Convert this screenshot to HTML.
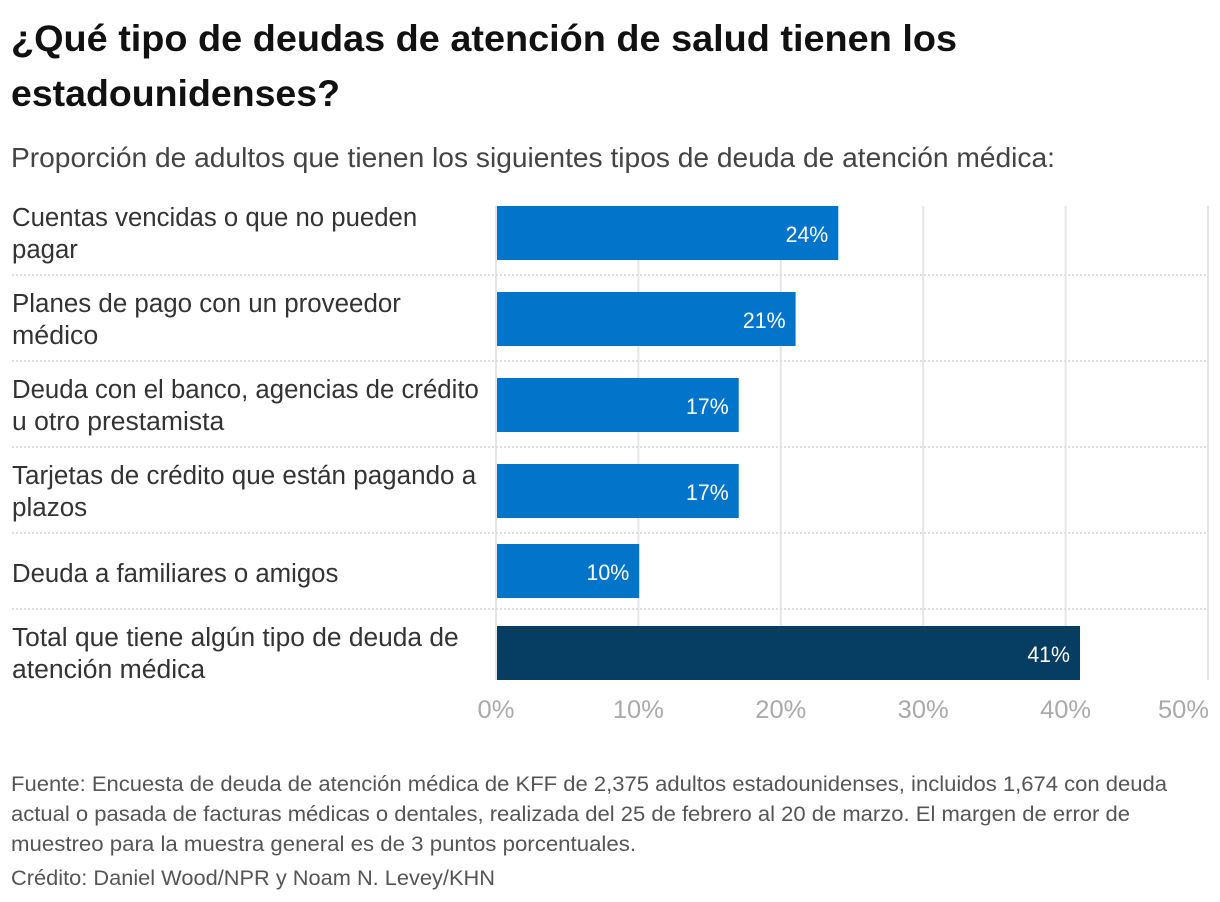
<!DOCTYPE html>
<html lang="es">
<head>
<meta charset="utf-8">
<title>Deudas de atención de salud</title>
<style>
  html, body { margin: 0; padding: 0; background: #fff; }
  svg { display: block; font-family: "Liberation Sans", sans-serif; }
</style>
</head>
<body>
<svg id="chart" width="1220" height="902" viewBox="0 0 1220 902" xmlns="http://www.w3.org/2000/svg">
  <rect width="1220" height="902" fill="#fff"/>
  <g font-weight="700" font-size="37" fill="#111">
    <text x="11" y="51" textLength="946" lengthAdjust="spacingAndGlyphs">¿Qué tipo de deudas de atención de salud tienen los</text>
    <text x="11" y="106" textLength="329" lengthAdjust="spacingAndGlyphs">estadounidenses?</text>
  </g>
  <text x="11" y="167" font-size="28" fill="#444" textLength="1044" lengthAdjust="spacingAndGlyphs">Proporción de adultos que tienen los siguientes tipos de deuda de atención médica:</text>
  <g id="plot"></g>
  <g font-size="21" fill="#555">
    <text x="11" y="791" textLength="1156" lengthAdjust="spacingAndGlyphs">Fuente: Encuesta de deuda de atención médica de KFF de 2,375 adultos estadounidenses, incluidos 1,674 con deuda</text>
    <text x="11" y="821" textLength="1119" lengthAdjust="spacingAndGlyphs">actual o pasada de facturas médicas o dentales, realizada del 25 de febrero al 20 de marzo. El margen de error de</text>
    <text x="11" y="851" textLength="625" lengthAdjust="spacingAndGlyphs">muestreo para la muestra general es de 3 puntos porcentuales.</text>
    <text x="11" y="885" textLength="484" lengthAdjust="spacingAndGlyphs">Crédito: Daniel Wood/NPR y Noam N. Levey/KHN</text>
  </g>
</svg>
<script>
const categories = [
  ["Cuentas vencidas o que no pueden", "pagar"],
  ["Planes de pago con un proveedor", "médico"],
  ["Deuda con el banco, agencias de crédito", "u otro prestamista"],
  ["Tarjetas de crédito que están pagando a", "plazos"],
  ["Deuda a familiares o amigos"],
  ["Total que tiene algún tipo de deuda de", "atención médica"]
];
const seriesValues = [24, 21, 17, 17, 10, 41];
const highlightedCategories = ["Total que tiene algún tipo de deuda de"];
const axisTicks = [0, 10, 20, 30, 40, 50];

const svgNS = "http://www.w3.org/2000/svg";
const plot = document.getElementById("plot");
const BAR_H = 54, TOP = 206, X0 = 497, UNIT = 14.22, GRID_UNIT = 14.24;
const xScale = v => X0 + UNIT * v;
const gridScale = t => X0 - 1 + GRID_UNIT * t;

// Horizontal fit of individual label lines against the reference typeface
const labelFit = {
  "Planes de pago con un proveedor": 1.016,
  "médico": 1.05,
  "u otro prestamista": 1.04,
  "Tarjetas de crédito que están pagando a": 1.02,
  "plazos": 1.02,
  "Total que tiene algún tipo de deuda de": 1.033,
  "atención médica": 1.04
};

function add(tag, attrs, parent, text) {
  const el = document.createElementNS(svgNS, tag);
  for (const k in attrs) el.setAttribute(k, attrs[k]);
  if (text !== undefined) el.textContent = text;
  (parent || plot).appendChild(el);
  return el;
}
function condense(el, k) {
  el.setAttribute("lengthAdjust", "spacingAndGlyphs");
  el.setAttribute("textLength", (el.getComputedTextLength() * k).toFixed(1));
}

const gridGroup = add("g", {});


const rowsGroup = add("g", {});


const axisGroup = add("g", {});



// Row geometry follows the number of label lines
const padTop = lines => (lines.length > 1 ? 17 : 11);
const padBottom = lines => (lines.length > 1 ? 15 : 11);
let cursor = TOP - padTop(categories[0]);
const rowBars = categories.map(lines => {
  const top = cursor + padTop(lines);
  const sepY = top + BAR_H + padBottom(lines);
  cursor = sepY;
  return { top, sepY };
});
const plotBottom = rowBars[rowBars.length - 1].top + BAR_H;

axisTicks.forEach(t => {
  const x = gridScale(t);
  const line = add("line", { x1: x, x2: x, y1: TOP, y2: plotBottom, stroke: "#e6e6e6", "stroke-width": 2 }, gridGroup);
  
  
  const isLast = t === axisTicks[axisTicks.length - 1];
  const label = add("text", {
    x: isLast ? x + 1 : x, y: 718, "font-size": 25, fill: "#aaa",
    "text-anchor": isLast ? "end" : "middle"
  }, axisGroup, t + "%");
  
  
  condense(label, 1.02);
});

categories.forEach((lines, i) => {
  const { top, sepY } = rowBars[i];
  const mid = top + BAR_H / 2;
  const v = seriesValues[i];
  const hi = highlightedCategories.includes(lines[0]);

  if (i < categories.length - 1) {
    const sep = add("line", { x1: 12, x2: 1208, y1: sepY, y2: sepY, stroke: "#dedede", "stroke-width": 2, "stroke-dasharray": "2 2" }, rowsGroup);
    
    
  }

  const bar = add("rect", { x: X0, y: top, width: UNIT * v, height: BAR_H, fill: hi ? "#063d63" : "#0275cb" }, rowsGroup);
  
  

  const val = add("text", { x: xScale(v) - 10, y: mid + 9, "font-size": 22, fill: "#fff", "text-anchor": "end" }, rowsGroup, v + "%");
  
  
  condense(val, 0.97);

  lines.forEach((ln, j) => {
    const y = mid + (lines.length > 1 ? (j === 0 ? -7 : 25) : 11);
    const t = add("text", { x: 12, y: y, "font-size": 25.5, fill: "#333" }, rowsGroup, ln);
    
    
    condense(t, labelFit[ln] || 1.01);
  });
});
</script>
</body>
</html>
